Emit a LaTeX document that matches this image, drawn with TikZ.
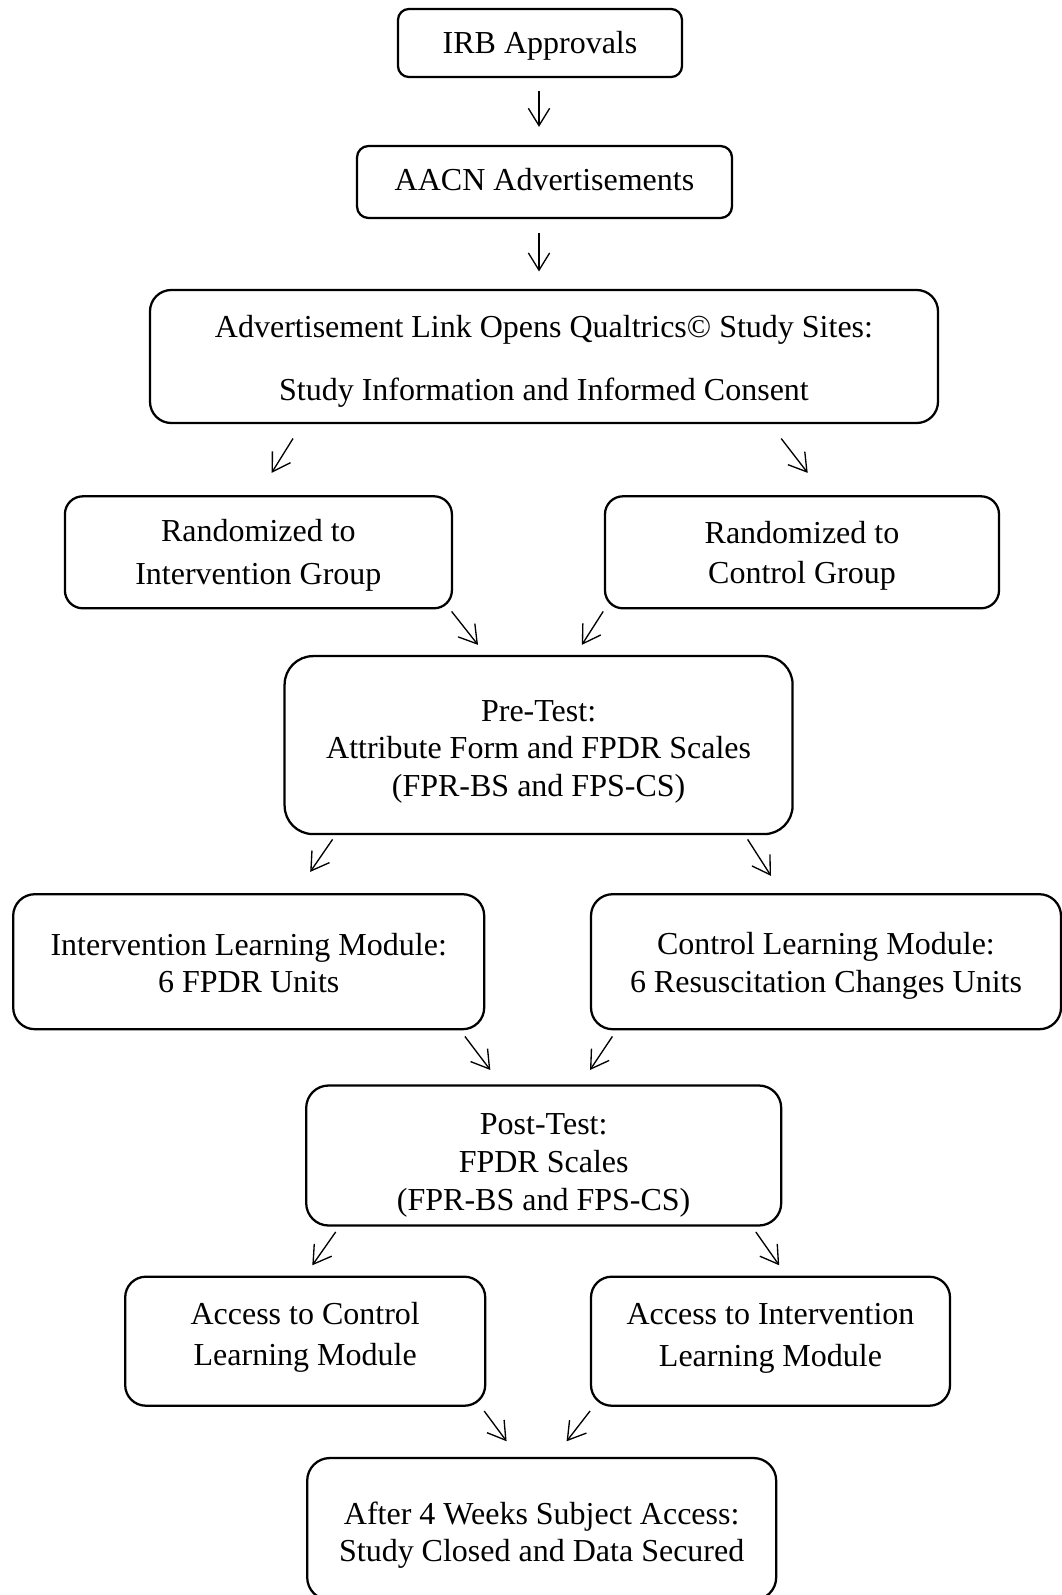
\documentclass[tikz,border=0pt]{standalone}
\usepackage{fontspec}
\setmainfont{Liberation Serif}
\usetikzlibrary{arrows.meta,calc}

% struts that set where the text sits in its box
\newcommand{\padtop}[1]{\rule{0pt}{#1}}
\newcommand{\padbot}[1]{\rule[-#1]{0pt}{0pt}}

\tikzset{
	stage/.style={draw, line width=0.85pt, align=center, inner sep=0pt,
		font=\fontsize{12}{14.1}\selectfont},
	boxsize/.style 2 args={minimum width=#1*0.375pt, minimum height=#2*0.375pt,
		rounded corners=#2*0.06pt},
	arr/.style={->, line width=0.5pt}
}

\begin{document}
\begin{tikzpicture}[x=0.375pt, y=-0.375pt, >={Straight Barb[length=6.5pt,width=8pt]}]
	\clip (0,0) rectangle (1062,1595);

	\node[stage, boxsize={284}{68}] (irb) at (540, 43) {\padtop{12.9pt}IRB Approvals\padbot{5pt}};
	\node[stage, boxsize={375}{72}] (aacn) at (544.5, 182) {\padtop{11.5pt}AACN Advertisements\padbot{5pt}};
	\node[stage, boxsize={788}{133}] (adv) at (544, 356.5)
		{\padtop{14.4pt}Advertisement Link Opens Qualtrics© Study Sites:\\[9.2pt]
		Study Information and Informed Consent\padbot{5pt}};

	\node[stage, boxsize={387}{112}] (rint) at (258.4, 552.3)
		{\padtop{12.9pt}Randomized to\\[1.9pt] Intervention Group\padbot{5pt}};
	\node[stage, boxsize={394}{112}] (rctl) at (802, 552.3)
		{\padtop{13.3pt}Randomized to\\[0.8pt] Control Group\padbot{5pt}};

	\node[stage, boxsize={508}{178}] (pre) at (538.6, 745.1)
		{\padtop{15.4pt}Pre-Test:\\ Attribute Form and FPDR Scales\\ (FPR-BS and FPS-CS)\padbot{5pt}};

	\node[stage, boxsize={471}{135}] (ilm) at (248.7, 961.7)
		{\padtop{14.2pt}Intervention Learning Module:\\ 6 FPDR Units\padbot{5pt}};
	\node[stage, boxsize={470}{135}] (clm) at (826, 961.7)
		{\padtop{13.7pt}Control Learning Module:\\ 6 Resuscitation Changes Units\padbot{5pt}};

	\node[stage, boxsize={475}{140}] (post) at (543.7, 1155.5)
		{\padtop{17.7pt}Post-Test:\\ FPDR Scales\\ (FPR-BS and FPS-CS)\padbot{5pt}};

	\node[stage, boxsize={360}{129}] (actl) at (305.2, 1341.2)
		{\padtop{10.9pt}Access to Control\\[1.5pt] Learning Module\padbot{8pt}};
	\node[stage, boxsize={359}{129}] (aint) at (770.5, 1341.2)
		{\padtop{11.3pt}Access to Intervention\\[1.5pt] Learning Module\padbot{8pt}};

	\node[stage, boxsize={469}{142}] (after) at (541.7, 1529)
		{\padtop{15.6pt}After 4 Weeks Subject Access:\\ Study Closed and Data Secured\padbot{5pt}};

	\foreach \a/\ax/\ay/\b/\bx/\by in {irb/-1/13/aacn/-5.5/-18, aacn/-5.5/14/adv/-5/-17.4,
		adv/-251/14.4/rint/13.2/-22.3, adv/237.2/14.4/rctl/5.7/-22.3,
		rint/193.2/2/pre/-60.6/-10.1, rctl/-198.8/2/pre/43.2/-10.1,
		pre/-206/4.1/ilm/61.5/-21.2, pre/209/4.1/clm/-55/-17.2,
		ilm/216.2/6.1/post/-53.4/-14.4, clm/-213.6/6.1/post/46.3/-14.4,
		post/-208/5.3/actl/7.1/-10.3, post/212.1/5.3/aint/8.7/-10.3,
		actl/179/4.2/after/-35.1/-15.6, aint/-180.5/4.2/after/24.9/-15.6}
	{
		\path ($(\a.south)+(\ax,\ay)$) edge[arr] ($(\b.north)+(\bx,\by)$);
	};
\end{tikzpicture}
\end{document}
